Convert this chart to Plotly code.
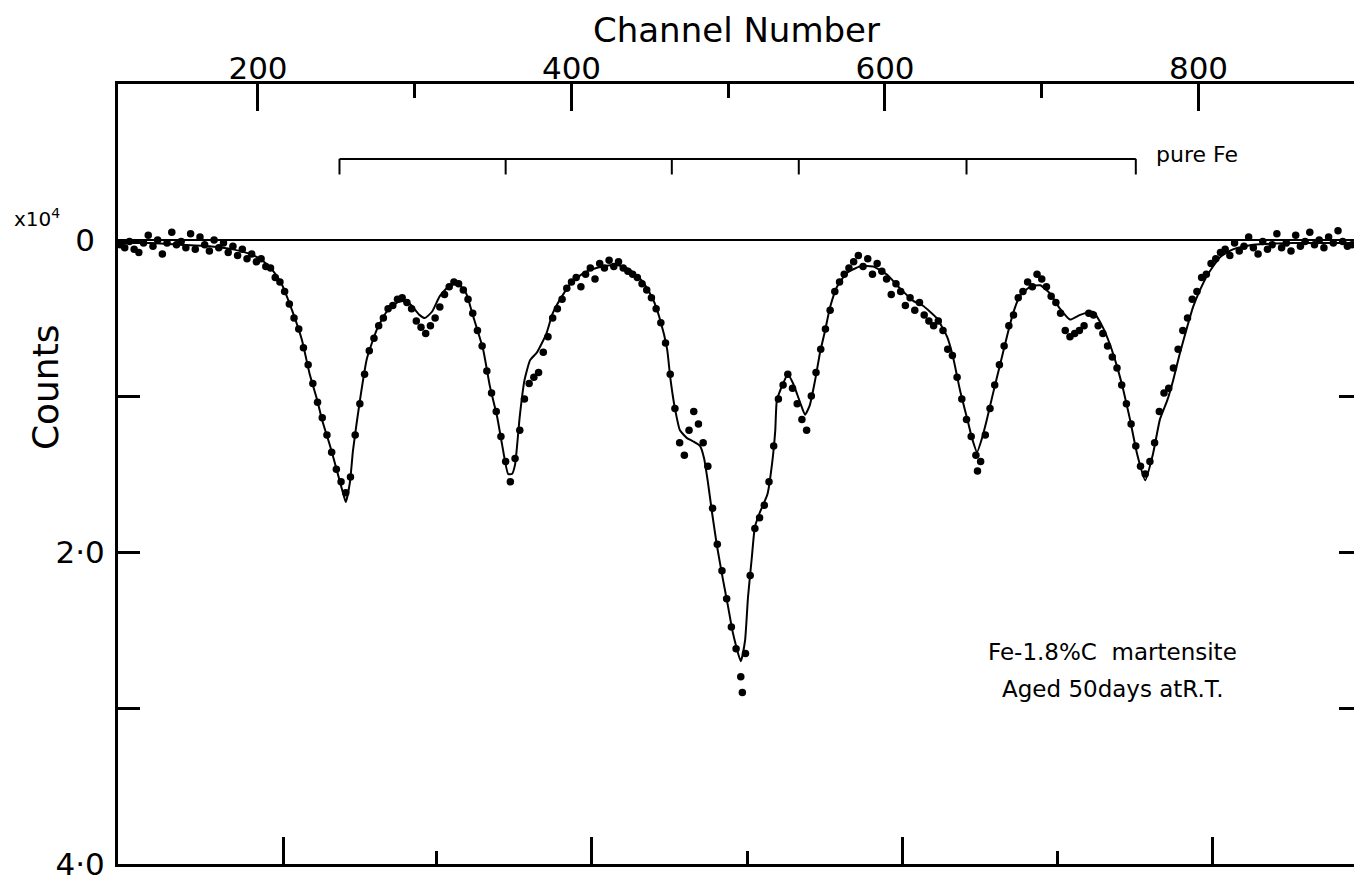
import plotly.graph_objects as go

# ---- Fitted spectrum (channel, counts x10^4 below baseline) ----
fit_channel = [110.7, 131, 150, 169, 184, 195, 202.6, 209, 215, 221.7, 228, 233, 237.6, 240.8,
               246, 250.4, 254.2, 256, 258.7, 260.6, 265, 269.5, 276, 282, 289, 294, 298, 303,
               306.5, 311, 316, 322.5, 327.6, 332.7, 337, 343.6, 348, 352.5, 355.7, 359.6, 362,
               364, 367, 370, 373.6, 378, 384, 388, 394.6, 401, 410, 420, 429, 437, 445.7, 452,
               456.5, 461, 463, 466, 469.2, 473.7, 477.5, 482, 484.6, 487, 489.7, 492.8, 496.7,
               499.9, 503, 508, 510.7, 512.6, 515, 517, 520, 525, 528, 530, 531, 535, 538, 541.4,
               545.8, 549, 552, 555.4, 558.6, 561.8, 565, 569.4, 575.8, 584, 592.4, 601, 609.6,
               618, 624, 633, 639.6, 643.4, 648, 652.3, 655.5, 658.7, 661.9, 665, 669, 673.4,
               678, 681.7, 686, 692.5, 699, 705, 711.6, 718, 724.5, 732.7, 739, 743.5, 748, 752,
               756.3, 760.8, 766, 771, 775.4, 780, 783.8, 788, 792.7, 796.5, 801, 806, 813.7,
               822, 834.8, 860.3, 899.2]
fit_counts = [0.02, 0.02, 0.03, 0.04, 0.06, 0.09, 0.13, 0.19, 0.28, 0.45, 0.64, 0.86, 1.02, 1.15,
              1.32, 1.48, 1.62, 1.68, 1.55, 1.35, 1.03, 0.76, 0.57, 0.46, 0.40, 0.39, 0.42, 0.48,
              0.50, 0.46, 0.36, 0.29, 0.28, 0.34, 0.48, 0.70, 0.94, 1.13, 1.31, 1.50, 1.50,
              1.44, 1.13, 0.90, 0.77, 0.72, 0.60, 0.47, 0.35, 0.26, 0.20, 0.17, 0.16, 0.19, 0.27, 0.38,
              0.51, 0.70, 0.88, 1.08, 1.22, 1.27, 1.29, 1.32, 1.40, 1.55, 1.75, 1.96, 2.18,
              2.35, 2.52, 2.70, 2.57, 2.29, 2.04, 1.84, 1.75, 1.63, 1.43, 1.22, 1.03, 0.92, 0.86, 0.92,
              1.04, 1.12, 1.06, 0.90, 0.72, 0.58, 0.43, 0.30, 0.21, 0.17, 0.17, 0.22, 0.31,
              0.39, 0.42, 0.50, 0.62, 0.75, 0.97, 1.14, 1.27, 1.36, 1.27, 1.15, 0.98, 0.80,
              0.61, 0.47, 0.36, 0.30, 0.29, 0.34, 0.44, 0.51, 0.48, 0.46, 0.56, 0.67, 0.81, 0.96,
              1.15, 1.37, 1.54, 1.37, 1.15, 1.03, 0.90, 0.73, 0.56, 0.43, 0.32, 0.22, 0.11,
              0.06, 0.03, 0.02, 0.02]

# ---- Measured points ----
dot_channel = [112, 115, 118, 121, 124, 127, 130, 133, 136, 139, 142, 145, 148, 151, 154, 157, 160,
               163, 166, 169, 172, 175, 178, 181, 184, 187, 190, 193, 196, 199,
               202, 205, 208, 211, 214, 217, 220, 223, 226, 229, 232, 235, 238, 241, 244, 247, 250,
               253, 256, 259, 262, 265, 268, 271, 274, 277, 280, 283, 286, 289, 292, 295,
               298, 301, 304, 307, 310, 313, 316, 319, 322, 325, 328,
               331, 334, 337, 340, 343, 346, 349, 352, 355, 358, 361, 364, 367, 370, 373, 376, 379,
               382, 385, 388, 391, 394, 397, 400, 403, 406, 409, 412, 415, 418, 421, 424, 427, 430,
               433, 436, 439, 442, 445, 448, 451, 454, 457, 460, 463, 466, 469, 472, 475, 478, 481,
               484, 487, 490, 493, 496, 499, 502, 505, 508, 509, 511, 514, 517, 520, 523, 526, 529,
               532, 535, 538, 541, 544, 547, 550, 553, 556, 559, 562, 565, 568, 571, 574, 577, 580,
               583, 586, 589, 592, 595, 598, 601, 604, 607, 610, 613, 616, 619, 622, 625, 628, 631,
               634, 637, 640, 643, 646, 649, 652, 655, 658, 659, 661, 664, 667, 670, 673, 676, 679,
               682, 685, 688, 691, 694, 697, 700, 703, 706, 709, 712, 715, 718, 721, 724, 727, 730,
               733, 736, 739, 742, 745, 748, 751, 754, 757, 760, 763, 766, 769, 772, 775, 778, 781,
               784, 787, 790, 793, 796, 799, 802, 805, 808, 811, 814, 817, 820, 823, 826, 829, 832,
               835, 838, 841, 844, 847, 850, 853, 856, 859, 862, 865, 868, 871, 874, 877, 880, 883,
               886, 889, 892, 895, 898]
dot_counts = [0.03, 0.05, 0.01, 0.06, 0.08, 0.02, -0.03, 0.04, 0.00, 0.09, 0.02, -0.05, 0.03, 0.01,
              0.05, -0.04, 0.06, -0.02, 0.03, 0.07, 0.00, 0.05, 0.02, 0.08, 0.04, 0.10, 0.06, 0.12,
              0.09, 0.14,
              0.12, 0.17, 0.18, 0.24, 0.27, 0.33, 0.41, 0.50, 0.57, 0.69, 0.80, 0.92, 1.04, 1.14,
              1.25, 1.36, 1.47, 1.55, 1.62, 1.52, 1.25, 1.05, 0.86, 0.71, 0.63, 0.55, 0.50, 0.44,
              0.42, 0.38, 0.37, 0.40,
              0.44, 0.52, 0.56, 0.60, 0.55, 0.50, 0.43, 0.35, 0.30, 0.27, 0.28,
              0.32, 0.38, 0.47, 0.58, 0.68, 0.84, 0.98, 1.10, 1.26, 1.42, 1.55, 1.40, 1.22, 1.02,
              0.92, 0.88, 0.85, 0.72, 0.62, 0.50, 0.44, 0.38, 0.31, 0.27, 0.24, 0.30, 0.22, 0.18,
              0.25, 0.15, 0.18, 0.13, 0.17, 0.14, 0.18, 0.20, 0.22, 0.24, 0.28, 0.32, 0.37, 0.44,
              0.53, 0.66, 0.86, 1.08, 1.30, 1.38, 1.22, 1.10, 1.18, 1.30, 1.45, 1.72, 1.95, 2.12,
              2.30, 2.48, 2.62, 2.80, 2.90, 2.65, 2.15, 1.85, 1.78, 1.70, 1.55, 1.32, 1.02, 0.93,
              0.86, 0.95, 1.05, 1.15, 1.22, 1.00, 0.85, 0.70, 0.57, 0.45, 0.33, 0.27, 0.22, 0.18,
              0.14, 0.10, 0.17, 0.12, 0.22, 0.15, 0.20, 0.25, 0.35, 0.28, 0.33, 0.42, 0.37, 0.45,
              0.40, 0.48, 0.52, 0.55, 0.52, 0.58, 0.70, 0.74, 0.88, 1.02, 1.15, 1.26, 1.38, 1.48,
              1.42, 1.25, 1.08, 0.93, 0.80, 0.68, 0.55, 0.48, 0.37, 0.33, 0.27, 0.30, 0.22, 0.25,
              0.30, 0.36, 0.40, 0.47, 0.58, 0.62, 0.60, 0.58, 0.55, 0.47, 0.48, 0.55, 0.60, 0.68,
              0.75, 0.82, 0.93, 1.05, 1.18, 1.32, 1.45, 1.50, 1.42, 1.30, 1.10, 0.98, 0.95, 0.82,
              0.70, 0.58, 0.50, 0.38, 0.33, 0.24, 0.22, 0.15, 0.12, 0.08, 0.06, 0.10, 0.02, 0.07,
              0.04, -0.02, 0.05, 0.09, 0.01, 0.06, 0.03, -0.04, 0.05, 0.02, 0.07, -0.03, 0.04, 0.01,
              -0.05, 0.03, 0.00, 0.05, -0.02, 0.02, -0.06, 0.01, 0.04, 0.03]

# ---- Reference line positions of pure Fe (channels) ----
pure_fe_channels = [252, 358, 464, 545, 652, 760]
pure_fe_level = -0.52
pure_fe_tick = 0.10

# ---- Axis ticks ----
channel_ticks = [200, 400, 600, 800]
channel_minor = [300, 500, 700]
count_ticks = [0, 1, 2, 3, 4]
count_labels = ["0\u00a0", "", "2\u00b70", "", "4\u00b70"]
velocity_major = [216, 413, 611, 809]
velocity_minor = [314, 512, 710]
right_ticks = [1, 2, 3]

X_RANGE = [110.7, 899.2]
Y_RANGE = [4, -1]
FONT = "DejaVu Sans"
INK = "black"

# bracket marking the pure-Fe sextet
bx, by = [], []
bx += [pure_fe_channels[0], pure_fe_channels[-1], None]
by += [pure_fe_level, pure_fe_level, None]
for c in pure_fe_channels:
    bx += [c, c, None]
    by += [pure_fe_level, pure_fe_level + pure_fe_tick, None]

fig = go.Figure()
fig.add_trace(go.Scatter(x=fit_channel, y=fit_counts, mode="lines",
                         line=dict(color=INK, width=2, shape="spline", smoothing=0.5),
                         hoverinfo="skip", showlegend=False))
fig.add_trace(go.Scatter(x=dot_channel, y=dot_counts, mode="markers",
                         marker=dict(color=INK, size=7.5),
                         showlegend=False))
fig.add_trace(go.Scatter(x=bx, y=by, mode="lines", line=dict(color=INK, width=2),
                         hoverinfo="skip", showlegend=False))
# empty traces so the secondary (bottom / right) axes get drawn
fig.add_trace(go.Scatter(x=[None], y=[None], xaxis="x2", yaxis="y",
                         hoverinfo="skip", showlegend=False))
fig.add_trace(go.Scatter(x=[None], y=[None], xaxis="x", yaxis="y2",
                         hoverinfo="skip", showlegend=False))

fig.update_layout(
    width=1354, height=888,
    margin=dict(l=118, r=0, t=84, b=24, pad=0),
    paper_bgcolor="white", plot_bgcolor="white",
    font=dict(family=FONT, color=INK),
    xaxis=dict(side="top", range=X_RANGE, tickmode="array", tickvals=channel_ticks,
               ticks="inside", ticklen=27, tickwidth=2.5, tickcolor=INK,
               minor=dict(tickmode="array", tickvals=channel_minor, ticks="inside",
                          ticklen=14, tickwidth=2.5, tickcolor=INK),
               showline=True, linewidth=3, linecolor=INK, showgrid=False, zeroline=False,
               ticklabelstandoff=-10,
               tickfont=dict(size=31, family=FONT, color=INK)),
    xaxis2=dict(overlaying="x", side="bottom", anchor="y", range=X_RANGE,
                tickmode="array", tickvals=velocity_major, ticks="inside", ticklen=27,
                tickwidth=2.5, tickcolor=INK,
                minor=dict(tickmode="array", tickvals=velocity_minor, ticks="inside",
                           ticklen=13, tickwidth=2.5, tickcolor=INK),
                showticklabels=False, showline=True, linewidth=3, linecolor=INK,
                showgrid=False, zeroline=False),
    yaxis=dict(range=Y_RANGE, tickmode="array", tickvals=count_ticks, ticktext=count_labels,
               ticks="inside", ticklen=22, tickwidth=2.5, tickcolor=INK,
               showline=True, linewidth=3, linecolor=INK, showgrid=False,
               zeroline=True, zerolinecolor=INK, zerolinewidth=2,
               ticklabelstandoff=4,
               tickfont=dict(size=31, family=FONT, color=INK)),
    yaxis2=dict(overlaying="y", side="right", anchor="x", range=Y_RANGE,
                tickmode="array", tickvals=right_ticks, ticks="inside", ticklen=15,
                tickwidth=2.5, tickcolor=INK, showticklabels=False, showline=False,
                showgrid=False, zeroline=False),
    annotations=[
        dict(text="Channel Number", xref="paper", yref="paper", x=0.5008, y=1.069,
             xanchor="center", yanchor="middle",
             showarrow=False, font=dict(size=34, family=FONT, color=INK)),
        dict(text="Counts", xref="paper", yref="paper", x=-0.059, y=0.6115, textangle=-90,
             xanchor="center", yanchor="middle",
             showarrow=False, font=dict(size=36, family=FONT, color=INK)),
        dict(text="x10<sup>4</sup>", xref="paper", yref="paper", x=-0.0655, y=0.828,
             xanchor="center", yanchor="middle",
             showarrow=False, font=dict(size=20, family=FONT, color=INK)),
        dict(text="pure Fe", xref="x", yref="y", x=771.5, y=-0.55, xanchor="left",
             yanchor="middle",
             showarrow=False, font=dict(size=22, family=FONT, color=INK)),
        dict(text="Fe-1.8%C  martensite", xref="x", yref="y", x=745, y=2.64,
             xanchor="center", yanchor="middle",
             showarrow=False, font=dict(size=23, family=FONT, color=INK)),
        dict(text="Aged 50days atR.T.", xref="x", yref="y", x=745, y=2.88,
             xanchor="center", yanchor="middle",
             showarrow=False, font=dict(size=23, family=FONT, color=INK)),
    ],
)

fig.write_html("out.html")
